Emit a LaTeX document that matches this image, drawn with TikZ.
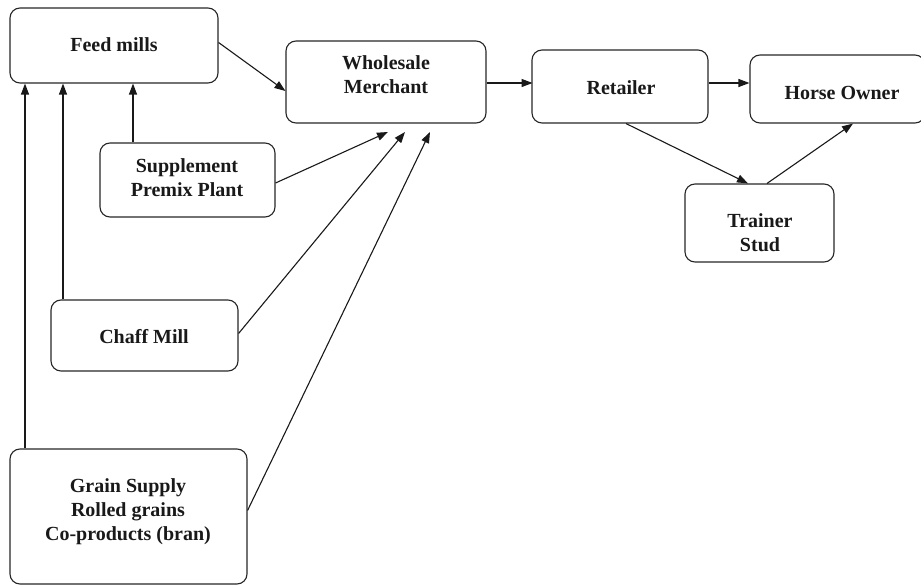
\documentclass[tikz,border=0pt]{standalone}
\usepackage{fontspec}
\setmainfont{Liberation Serif}
\usetikzlibrary{arrows.meta,calc}
\begin{document}
\begin{tikzpicture}[x=1pt,y=-1pt,
  box/.style={draw=black!85,line width=1.1pt,rounded corners=10pt,inner sep=0pt},
  lbl/.style={font=\fontsize{20}{24}\selectfont\bfseries,align=center,inner sep=0pt,text=black!90},
  arr/.style={draw=black!90,line width=1.1pt,-{Triangle[length=11pt,width=8pt]}}]
\useasboundingbox (0,0) rectangle (921,585);
% boxes
\node[box,minimum width=208pt,minimum height=75pt] (feed) at (114,45.5) {};
\node[box,minimum width=200pt,minimum height=82pt] (whole) at (386,82) {};
\node[box,minimum width=175pt,minimum height=74pt] (supp) at (187.5,180) {};
\node[box,minimum width=176pt,minimum height=73pt] (ret) at (620,86.5) {};
\node[box,minimum width=175pt,minimum height=68pt] (horse) at (837.5,89) {};
\node[box,minimum width=149pt,minimum height=78pt] (trainer) at (759.5,223) {};
\node[box,minimum width=187pt,minimum height=71pt] (chaff) at (144.5,335.5) {};
\node[box,minimum width=237pt,minimum height=135pt] (grain) at (128.5,516.5) {};
% labels
\node[lbl] (tfeed) at (114,45) {Feed mills};
\node[lbl] (twhole) at (386,75) {Wholesale\\Merchant};
\node[lbl] (tsupp) at (187,178) {Supplement\\Premix Plant};
\node[lbl] (tret) at (621,88) {Retailer};
\node[lbl] (thorse) at (842,93) {Horse Owner};
\node[lbl] (ttrainer) at (760,233) {Trainer\\Stud};
\node[lbl] (tchaff) at (144,337) {Chaff Mill};
\node[lbl] (tgrain) at (128,512) {Grain Supply\\Rolled grains\\Co-products (bran)};
% free ends
\coordinate (e1) at (388,132);
\coordinate (e2) at (405,132);
\coordinate (e3) at (430,132);
\coordinate (x1) at (25,0);
\coordinate (x2) at (63,0);
\coordinate (x3) at (133,0);
% connectors
\draw[arr] ($(feed.east)+(0,-3)$) -- ($(whole.west)+(0,9)$);
\draw[arr] ($(whole.east)+(0,1)$) -- ($(whole.east)+(46,1)$);
\draw[arr] ($(ret.east)+(0,-3.5)$) -- ($(horse.west)+(0,-6)$);
\draw[arr] ($(ret.south)+(6,0)$) -- ($(trainer.north)+(-11.5,0)$);
\draw[arr] ($(trainer.north)+(7.5,0)$) -- ($(horse.south)+(15.5,0)$);
\draw[arr] ($(supp.east)+(0,3)$) -- (e1);
\draw[arr] ($(chaff.east)+(0,-2)$) -- (e2);
\draw[arr] ($(grain.east)+(0,-6)$) -- (e3);
\draw[arr] (grain.north -| x1) -- (feed.south -| x1);
\draw[arr] (chaff.north -| x2) -- (feed.south -| x2);
\draw[arr] (supp.north -| x3) -- (feed.south -| x3);
\end{tikzpicture}
\end{document}
